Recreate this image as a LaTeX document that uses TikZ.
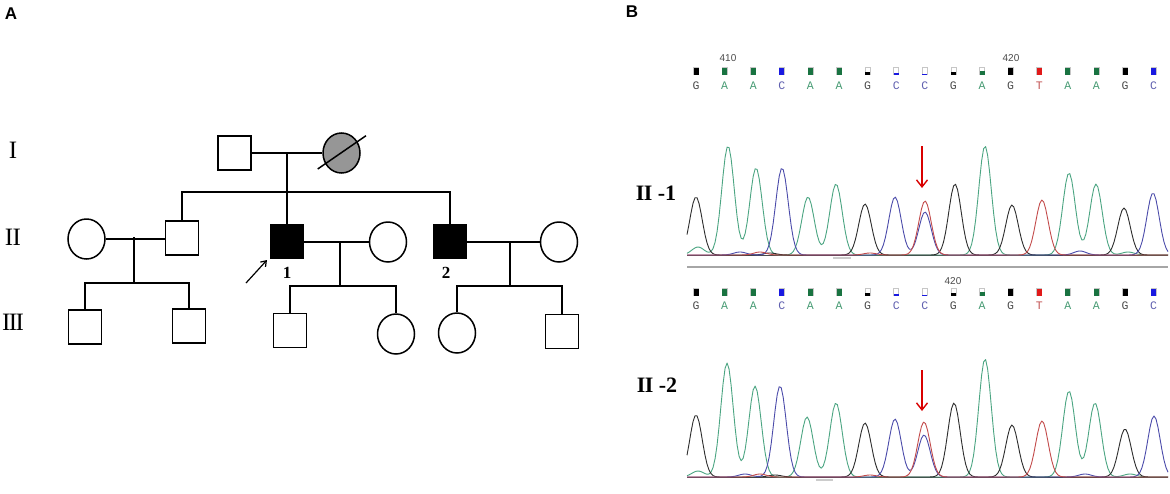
\documentclass[tikz,border=0pt]{standalone}
\usepackage{fontspec}
\setmainfont{Liberation Serif}
\newfontfamily\sansfnt{Liberation Sans}
\newfontfamily\monofnt{Liberation Mono}
\usetikzlibrary{shapes.geometric,arrows.meta}
\definecolor{trG}{RGB}{45,45,45}
\definecolor{trA}{RGB}{75,165,130}
\definecolor{trC}{RGB}{75,75,170}
\definecolor{trT}{RGB}{195,75,75}
\definecolor{bxA}{RGB}{25,115,65}
\definecolor{bxC}{RGB}{25,25,225}
\definecolor{bxT}{RGB}{225,25,25}
\definecolor{ltA}{RGB}{70,155,115}
\definecolor{ltC}{RGB}{95,95,175}
\definecolor{ltT}{RGB}{195,85,85}
\definecolor{ltG}{RGB}{75,75,75}
\definecolor{deadgray}{RGB}{150,150,150}
\begin{document}
\begin{tikzpicture}[x=1pt,y=-1pt,
  declare function={pk(\t,\c,\h)=\h*exp(-((\t-\c)/8.8)*((\t-\c)/8.8));},
  pl/.style={line width=1.5pt},
  male/.style={draw,line width=1.5pt,rectangle,minimum width=33pt,minimum height=34pt,inner sep=0pt},
  female/.style={draw,line width=1.5pt,ellipse,minimum width=37pt,minimum height=40pt,inner sep=0pt},
  affected/.style={fill=black},
  gen/.style={font=\fontsize{25}{25}\selectfont},
  numlab/.style={font=\bfseries\fontsize{17}{17}\selectfont},
  panel/.style={font=\sansfnt\bfseries\fontsize{17}{17}\selectfont},
  seqlab/.style={font=\bfseries\fontsize{22}{22}\selectfont},
  trace/.style={line width=0.9pt,line join=round},
  redarrow/.style={draw=red!85!black,line width=1.4pt,-{Straight Barb[length=7pt,width=11pt]}},
  poslab/.style={font=\sansfnt\fontsize{10}{10}\selectfont,text=ltG}
]
\useasboundingbox (0,0) rectangle (1170,493);
\fill[white] (0,0) rectangle (1170,493);

% ---------- Panel A ----------
\node[panel] (lblA) at (11,14) {A};
\node[gen] (g1) at (13,150) {I};
\node[gen] (g2) at (13,237) {I\kern-0.5pt I};
\node[gen] (g3) at (13,322) {I\kern-1.5pt I\kern-1.5pt I};

% generation I
\node[male] (I1) at (234.5,153) {};
\node[female,fill=deadgray] (I2) at (341.5,153) {};
\coordinate (slA) at (317.7,169);
\coordinate (slB) at (366,135.7);
\draw[pl] (slA) -- (slB);
\draw[pl] (I1.east) -- (I2.west);
\coordinate (m1) at (287,153);
\coordinate (sL) at (182,192);
\coordinate (sR) at (450,192);

% generation II
\node[female] (IIc1) at (86.5,239) {};
\node[male] (IIs1) at (182,238) {};
\node[male,affected] (II1) at (287,241.5) {};
\node[female] (IIc2) at (388,242) {};
\node[male,affected] (II2) at (450,241.5) {};
\node[female] (IIc3) at (559,242) {};

\draw[pl] (m1) -- (II1.north);
\draw[pl] (IIs1.north) -- (sL) -- (sR) -- (II2.north);

\node[numlab] (n1) at (287,273) {1};
\node[numlab] (n2) at (446,273) {2};
\coordinate (arS) at (246,283);
\coordinate (arE) at (267,260);
\draw[line width=1.2pt,-{Straight Barb[length=5pt,width=7pt]}] (arS) -- (arE);

% marriages gen II
\draw[pl] (IIc1.east) -- (IIs1.west |- IIc1.east);
\draw[pl] (II1.east |- IIc2.west) -- (IIc2.west);
\draw[pl] (II2.east |- IIc3.west) -- (IIc3.west);
\coordinate (d1) at (134,237);
\coordinate (d1b) at (134,283);
\coordinate (d2) at (340,242);
\coordinate (d2b) at (340,286);
\coordinate (d3) at (510,242);
\coordinate (d3b) at (510,286);
\draw[pl] (d1) -- (d1b);
\draw[pl] (d2) -- (d2b);
\draw[pl] (d3) -- (d3b);

% generation III
\node[male] (III1) at (85,327) {};
\node[male] (III2) at (189,326) {};
\node[male] (III3) at (290,330.5) {};
\node[female] (III4) at (396,334) {};
\node[female] (III5) at (457,333) {};
\node[male] (III6) at (562,331.5) {};

\draw[pl] (III1.north) |- (d1b) -| (III2.north);
\draw[pl] (III3.north) |- (d2b) -| (III4.north);
\draw[pl] (III5.north) |- (d3b) -| (III6.north);

% ---------- Panel B ----------
\node[panel] (lblB) at (632,12) {B};
\node[seqlab] (lab1) at (656,193) {I\kern-0.5pt I -1};
\node[seqlab] (lab2) at (657,385) {I\kern-0.5pt I -2};

% base calls
\foreach \by/\ly/\nm in {71/86/a,292/306/b}{
  \foreach \i/\L/\lc/\bc/\fh in {0/G/ltG/black/7, 1/A/ltA/bxA/7, 2/A/ltA/bxA/7, 3/C/ltC/bxC/7, 4/A/ltA/bxA/7, 5/A/ltA/bxA/7, 6/G/ltG/black/2.5, 7/C/ltC/bxC/1.5, 8/C/ltC/bxC/1, 9/G/ltG/black/2.5, 10/A/ltA/bxA/3.5, 11/G/ltG/black/7, 12/T/ltT/bxT/7, 13/A/ltA/bxA/7, 14/A/ltA/bxA/7, 15/G/ltG/black/7, 16/C/ltC/bxC/7}{
    \pgfmathsetmacro\bx{696+28.6*\i}
    \draw[gray!45,line width=0.5pt] (\bx-2.5,\by-3.5) rectangle (\bx+2.5,\by+3.5);
    \fill[\bc] (\bx-2.5,\by+3.5-\fh) rectangle (\bx+2.5,\by+3.5);
    \node[font=\monofnt\fontsize{11.5}{11.5}\selectfont,text=\lc,inner sep=0pt] (s\nm\i) at (\bx,\ly) {\L};
  }
}
\node[poslab] (p410) at (728,58) {410};
\node[poslab] (p420a) at (1011,58) {420};
\node[poslab] (p420b) at (953,281) {420};

% chromatogram 1 (baseline 255)
\draw[gray!60!black,line width=1pt] (687,255) -- (1168,255);
\draw[gray!70,line width=2pt] (687,267) -- (1168,267);
\draw[gray!40,line width=1.2pt] (833,258) -- (851,258);
\draw[trace,trA] plot[domain=687:1168,samples=241] (\x,{255-(pk(\x,698,8)+pk(\x,728,109)+pk(\x,756,87)+pk(\x,808,58)+pk(\x,836,71)+pk(\x,985,109)+pk(\x,1069,82)+pk(\x,1096,71)+pk(\x,1128,3))});
\draw[trace,trG] plot[domain=687:1168,samples=241] (\x,{255-(pk(\x,696,58)+pk(\x,865,51)+pk(\x,955,71)+pk(\x,1012,50)+pk(\x,1124,47)+pk(\x,770,2))});
\draw[trace,trC] plot[domain=687:1168,samples=241] (\x,{255-(pk(\x,782,87)+pk(\x,895,58)+pk(\x,925,43)+pk(\x,1153,62)+pk(\x,740,3)+pk(\x,1080,4))});
\draw[trace,trT] plot[domain=687:1168,samples=241] (\x,{255-(pk(\x,925,54)+pk(\x,1042,55)+pk(\x,760,3)+pk(\x,870,2))});
\coordinate (ra1s) at (922,146);
\coordinate (ra1e) at (922,188);
\draw[redarrow] (ra1s) -- (ra1e);

% chromatogram 2 (baseline 477)
\draw[gray!60!black,line width=1pt] (687,477) -- (1168,477);
\draw[gray!40,line width=1.2pt] (816,480) -- (833,480);
\draw[trace,trA] plot[domain=687:1168,samples=241] (\x,{477-(pk(\x,698,6)+pk(\x,727,114)+pk(\x,755,91)+pk(\x,807,60)+pk(\x,836,74)+pk(\x,985,118)+pk(\x,1069,86)+pk(\x,1095,74)+pk(\x,1130,3))});
\draw[trace,trG] plot[domain=687:1168,samples=241] (\x,{477-(pk(\x,696,62)+pk(\x,865,54)+pk(\x,954,74)+pk(\x,1012,52)+pk(\x,1125,48)+pk(\x,775,2))});
\draw[trace,trC] plot[domain=687:1168,samples=241] (\x,{477-(pk(\x,780,91)+pk(\x,895,58)+pk(\x,924,42)+pk(\x,1154,61)+pk(\x,745,3)+pk(\x,1085,3))});
\draw[trace,trT] plot[domain=687:1168,samples=241] (\x,{477-(pk(\x,924,55)+pk(\x,1042,56)+pk(\x,760,3)+pk(\x,870,2))});
\coordinate (ra2s) at (922,370);
\coordinate (ra2e) at (922,411);
\draw[redarrow] (ra2s) -- (ra2e);
\end{tikzpicture}
\end{document}
